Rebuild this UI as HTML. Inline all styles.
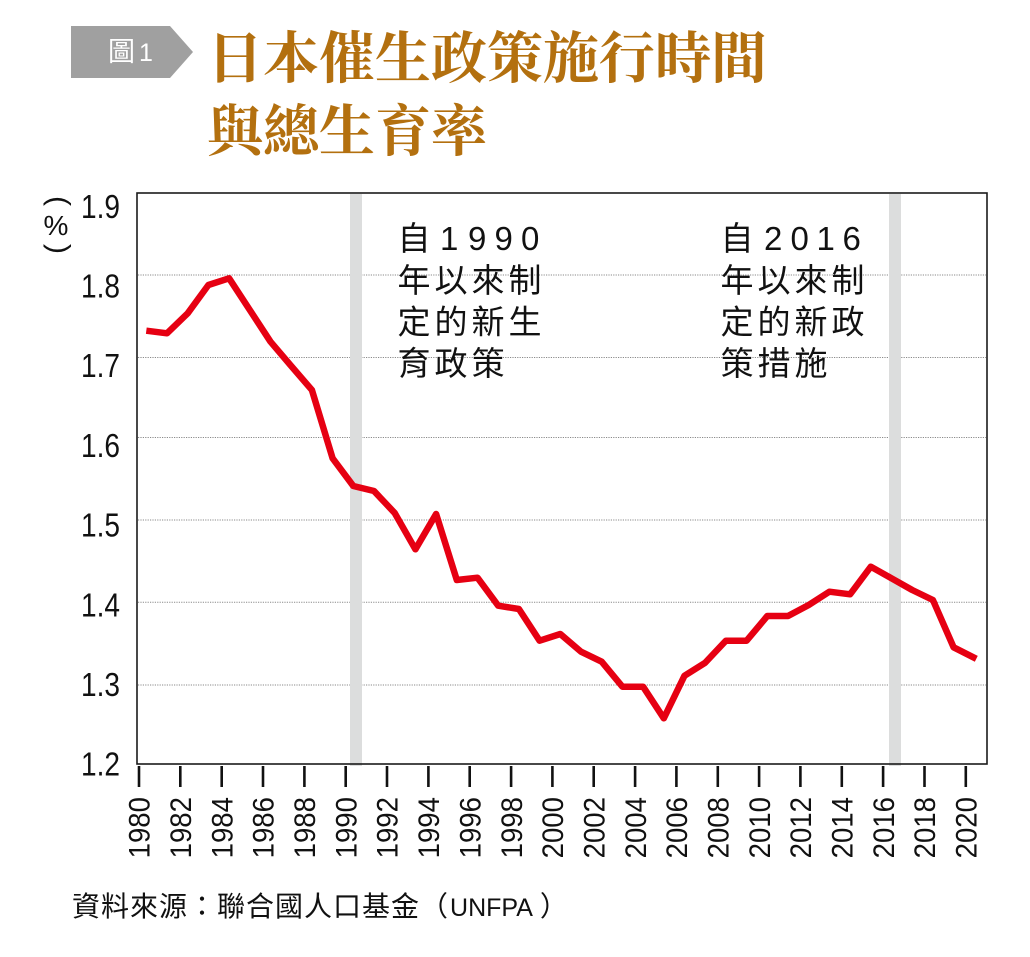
<!DOCTYPE html>
<html>
<head>
<meta charset="utf-8">
<style>
html,body{margin:0;padding:0;background:#fff;}
svg{display:block;}
</style>
</head>
<body>
<svg width="1030" height="957" viewBox="0 0 1030 957" xmlns="http://www.w3.org/2000/svg">
<rect x="0" y="0" width="1030" height="957" fill="#fff"/>

<!-- Header tag -->
<polygon points="71,26 170,26 193,52 170,78 71,78" fill="#a0a0a0"/>
<text x="108" y="61" font-family="'Liberation Sans','Noto Sans CJK TC',sans-serif" font-size="27" fill="#fff">圖</text>
<text x="139" y="61" font-family="'Liberation Sans',sans-serif" font-size="25" fill="#fff">1</text>

<!-- Title -->
<g font-family="'Liberation Serif','Noto Serif CJK SC',serif" font-weight="bold" font-size="56" fill="#b3700f">
<text x="207" y="78">日本催生政策施行時間</text>
<text x="207" y="151">與總生育率</text>
</g>

<!-- gridlines -->
<g stroke="#8a8a8a" stroke-width="1" stroke-dasharray="1.2 1.2">
<line x1="138" y1="275" x2="986" y2="275"/>
<line x1="138" y1="357.5" x2="986" y2="357.5"/>
<line x1="138" y1="437.5" x2="986" y2="437.5"/>
<line x1="138" y1="520" x2="986" y2="520"/>
<line x1="138" y1="602.3" x2="986" y2="602.3"/>
<line x1="138" y1="685" x2="986" y2="685"/>
</g>

<!-- policy bands -->
<rect x="350" y="194" width="12" height="572" fill="#dcdddd"/>
<rect x="889" y="194" width="12" height="572" fill="#dcdddd"/>

<!-- frame -->
<rect x="137" y="193" width="850" height="571" fill="none" stroke="#1a1a1a" stroke-width="1.6"/>

<!-- ticks -->
<g stroke="#111" stroke-width="2.6">
<line x1="139" y1="766" x2="139" y2="787"/>
<line x1="180.3" y1="766" x2="180.3" y2="787"/>
<line x1="221.7" y1="766" x2="221.7" y2="787"/>
<line x1="263" y1="766" x2="263" y2="787"/>
<line x1="304.4" y1="766" x2="304.4" y2="787"/>
<line x1="345.7" y1="766" x2="345.7" y2="787"/>
<line x1="387" y1="766" x2="387" y2="787"/>
<line x1="428.4" y1="766" x2="428.4" y2="787"/>
<line x1="469.7" y1="766" x2="469.7" y2="787"/>
<line x1="511.1" y1="766" x2="511.1" y2="787"/>
<line x1="552.4" y1="766" x2="552.4" y2="787"/>
<line x1="593.7" y1="766" x2="593.7" y2="787"/>
<line x1="635.1" y1="766" x2="635.1" y2="787"/>
<line x1="676.4" y1="766" x2="676.4" y2="787"/>
<line x1="717.8" y1="766" x2="717.8" y2="787"/>
<line x1="759.1" y1="766" x2="759.1" y2="787"/>
<line x1="800.4" y1="766" x2="800.4" y2="787"/>
<line x1="841.8" y1="766" x2="841.8" y2="787"/>
<line x1="883.1" y1="766" x2="883.1" y2="787"/>
<line x1="924.5" y1="766" x2="924.5" y2="787"/>
<line x1="965.8" y1="766" x2="965.8" y2="787"/>
</g>

<!-- x labels -->
<g font-family="'Liberation Sans',sans-serif" font-size="30" fill="#111" text-anchor="end">
<text transform="translate(149.7,797) rotate(-90) scale(0.92,1)">1980</text>
<text transform="translate(191,797) rotate(-90) scale(0.92,1)">1982</text>
<text transform="translate(232.4,797) rotate(-90) scale(0.92,1)">1984</text>
<text transform="translate(273.7,797) rotate(-90) scale(0.92,1)">1986</text>
<text transform="translate(315.1,797) rotate(-90) scale(0.92,1)">1988</text>
<text transform="translate(356.4,797) rotate(-90) scale(0.92,1)">1990</text>
<text transform="translate(397.7,797) rotate(-90) scale(0.92,1)">1992</text>
<text transform="translate(439.1,797) rotate(-90) scale(0.92,1)">1994</text>
<text transform="translate(480.4,797) rotate(-90) scale(0.92,1)">1996</text>
<text transform="translate(521.8,797) rotate(-90) scale(0.92,1)">1998</text>
<text transform="translate(563.1,797) rotate(-90) scale(0.92,1)">2000</text>
<text transform="translate(604.4,797) rotate(-90) scale(0.92,1)">2002</text>
<text transform="translate(645.8,797) rotate(-90) scale(0.92,1)">2004</text>
<text transform="translate(687.1,797) rotate(-90) scale(0.92,1)">2006</text>
<text transform="translate(728.5,797) rotate(-90) scale(0.92,1)">2008</text>
<text transform="translate(769.8,797) rotate(-90) scale(0.92,1)">2010</text>
<text transform="translate(811.1,797) rotate(-90) scale(0.92,1)">2012</text>
<text transform="translate(852.5,797) rotate(-90) scale(0.92,1)">2014</text>
<text transform="translate(893.8,797) rotate(-90) scale(0.92,1)">2016</text>
<text transform="translate(935.2,797) rotate(-90) scale(0.92,1)">2018</text>
<text transform="translate(976.5,797) rotate(-90) scale(0.92,1)">2020</text>
</g>

<!-- y labels -->
<g font-family="'Liberation Sans',sans-serif" font-size="33" fill="#111" text-anchor="end">
<text transform="translate(120,217.8) scale(0.85,1)">1.9</text>
<text transform="translate(120,297.5) scale(0.85,1)">1.8</text>
<text transform="translate(120,377.2) scale(0.85,1)">1.7</text>
<text transform="translate(120,456.9) scale(0.85,1)">1.6</text>
<text transform="translate(120,536.6) scale(0.85,1)">1.5</text>
<text transform="translate(120,616.3) scale(0.85,1)">1.4</text>
<text transform="translate(120,696) scale(0.85,1)">1.3</text>
<text transform="translate(120,775.7) scale(0.85,1)">1.2</text>
</g>

<!-- unit (%) -->
<g font-family="'Liberation Sans',sans-serif" fill="#111" text-anchor="middle">
<text font-size="30" transform="translate(49.5,201) rotate(90)">(</text>
<text font-size="28" x="56" y="235">%</text>
<text font-size="30" transform="translate(49.5,249) rotate(90)">)</text>
</g>

<!-- data line -->
<polyline fill="none" stroke="#e60012" stroke-width="6.5" stroke-linejoin="round" stroke-linecap="butt"
points="146.3,330.7 167.0,333.3 187.7,313.3 208.4,285 229.1,278.3 249.8,310 270.5,341.7 291.2,366 311.9,390 332.6,458.3 353.3,486 374.0,491 394.7,513 415.4,549.3 436.1,514 456.8,580 477.5,577.7 498.2,605.7 518.9,609 539.6,640.7 560.3,634 581.0,651.7 601.7,661.7 622.4,686.7 643.1,686.7 663.8,718.3 684.5,675.7 705.2,662.7 725.9,640.7 746.6,640.7 767.3,616 788.0,616 808.7,605 829.4,591.7 850.1,594.3 870.8,566.7 891.5,578.3 912.2,590 932.9,600 953.6,647.3 976.3,658.8"/>

<!-- annotations -->
<g font-family="'Liberation Sans','Noto Sans CJK TC',sans-serif" font-size="33" fill="#111">
<text x="397.5" y="250">自</text>
<text x="440" y="250">1</text>
<text x="468" y="250">9</text>
<text x="494.5" y="250">9</text>
<text x="521" y="250">0</text>
<text x="397.5" y="292" letter-spacing="4">年以來制</text>
<text x="397.5" y="333.5" letter-spacing="4">定的新生</text>
<text x="397.5" y="375" letter-spacing="4">育政策</text>

<text x="720.5" y="250">自</text>
<text x="764" y="250">2</text>
<text x="790.5" y="250">0</text>
<text x="816.5" y="250">1</text>
<text x="842.5" y="250">6</text>
<text x="720.5" y="292" letter-spacing="4">年以來制</text>
<text x="720.5" y="333.5" letter-spacing="4">定的新政</text>
<text x="720.5" y="375" letter-spacing="4">策措施</text>
</g>

<!-- source -->
<text x="72" y="916" font-family="'Liberation Sans','Noto Sans CJK TC',sans-serif" font-size="28" fill="#111"><tspan letter-spacing="1">資料來源：聯合國人口基金（</tspan><tspan font-size="25" dx="1">UNFPA</tspan><tspan dx="7">）</tspan></text>
</svg>
</body>
</html>
